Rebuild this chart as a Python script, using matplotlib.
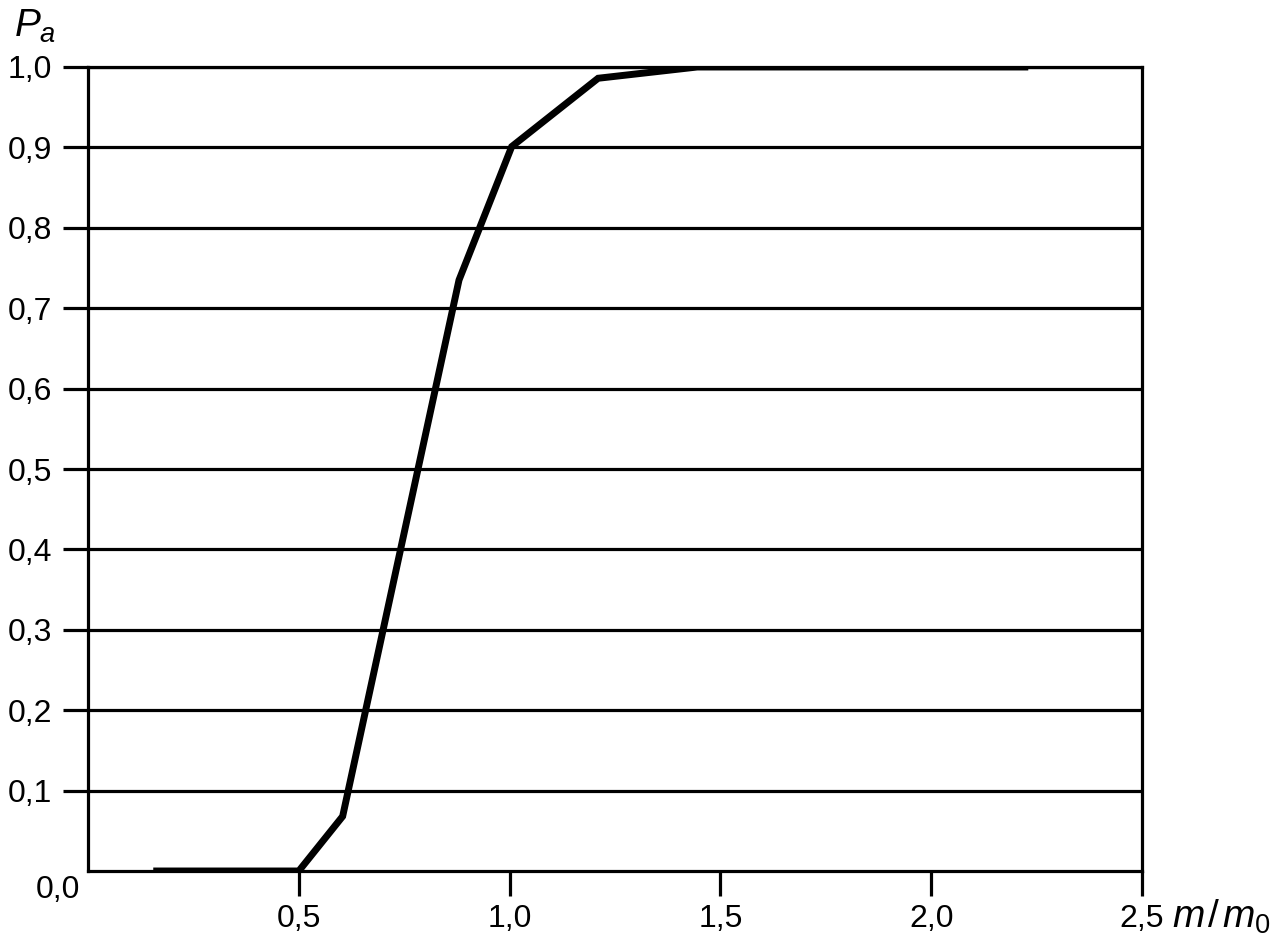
import numpy as np
import matplotlib.pyplot as plt

plt.rcParams['font.family'] = 'Liberation Sans'
plt.rcParams['mathtext.fontset'] = 'custom'
plt.rcParams['mathtext.rm'] = 'Liberation Sans'
plt.rcParams['mathtext.it'] = 'Liberation Sans:italic'

# operating characteristic curve
ratio = [0.163, 0.5, 0.604, 0.88, 1.005, 1.21, 1.445, 2.222]
prob = [0.0, 0.0, 0.068, 0.735, 0.901, 0.986, 1.0, 1.0]

xticks = [0.5, 1.0, 1.5, 2.0, 2.5]
xlabels = ['0,5', '1,0', '1,5', '2,0', '2,5']
yticks = [0.1, 0.2, 0.3, 0.4, 0.5, 0.6, 0.7, 0.8, 0.9, 1.0]
ylabels = ['0,1', '0,2', '0,3', '0,4', '0,5', '0,6', '0,7', '0,8', '0,9', '1,0']

fig = plt.figure(figsize=(12.77, 9.46), dpi=100)
ax = fig.add_axes([88 / 1277, 1 - 871 / 946, (1142 - 88) / 1277, (871 - 67) / 946])

lw = 2.3
for y in yticks:
    ax.axhline(y, color='black', lw=lw, zorder=1)

ax.plot(ratio, prob, color='black', lw=5, solid_joinstyle='miter', zorder=3)

ax.set_xlim(0, 2.5)
ax.set_ylim(0, 1.0)
ax.set_xticks(xticks)
ax.set_xticklabels(xlabels)
ax.set_yticks(yticks)
ax.set_yticklabels(ylabels)

for s in ax.spines.values():
    s.set_linewidth(lw)
ax.tick_params(axis='both', length=18, width=lw, labelsize=23)
ax.tick_params(axis='y', pad=8)
ax.tick_params(axis='x', pad=6)

ax.annotate('0,0', xy=(0, 0), xycoords='data', xytext=(-6, -3),
            textcoords='offset points', ha='right', va='top', fontsize=23)
fig.text(14 / 1277, 1 - 37 / 946, r'$P_a$', fontsize=28, ha='left', va='baseline')
fig.text(1172 / 1277, 1 - 928 / 946, r'$m\!\;/\!\;m_0$', fontsize=28, ha='left', va='baseline')

fig.savefig('out.png', dpi=100)
